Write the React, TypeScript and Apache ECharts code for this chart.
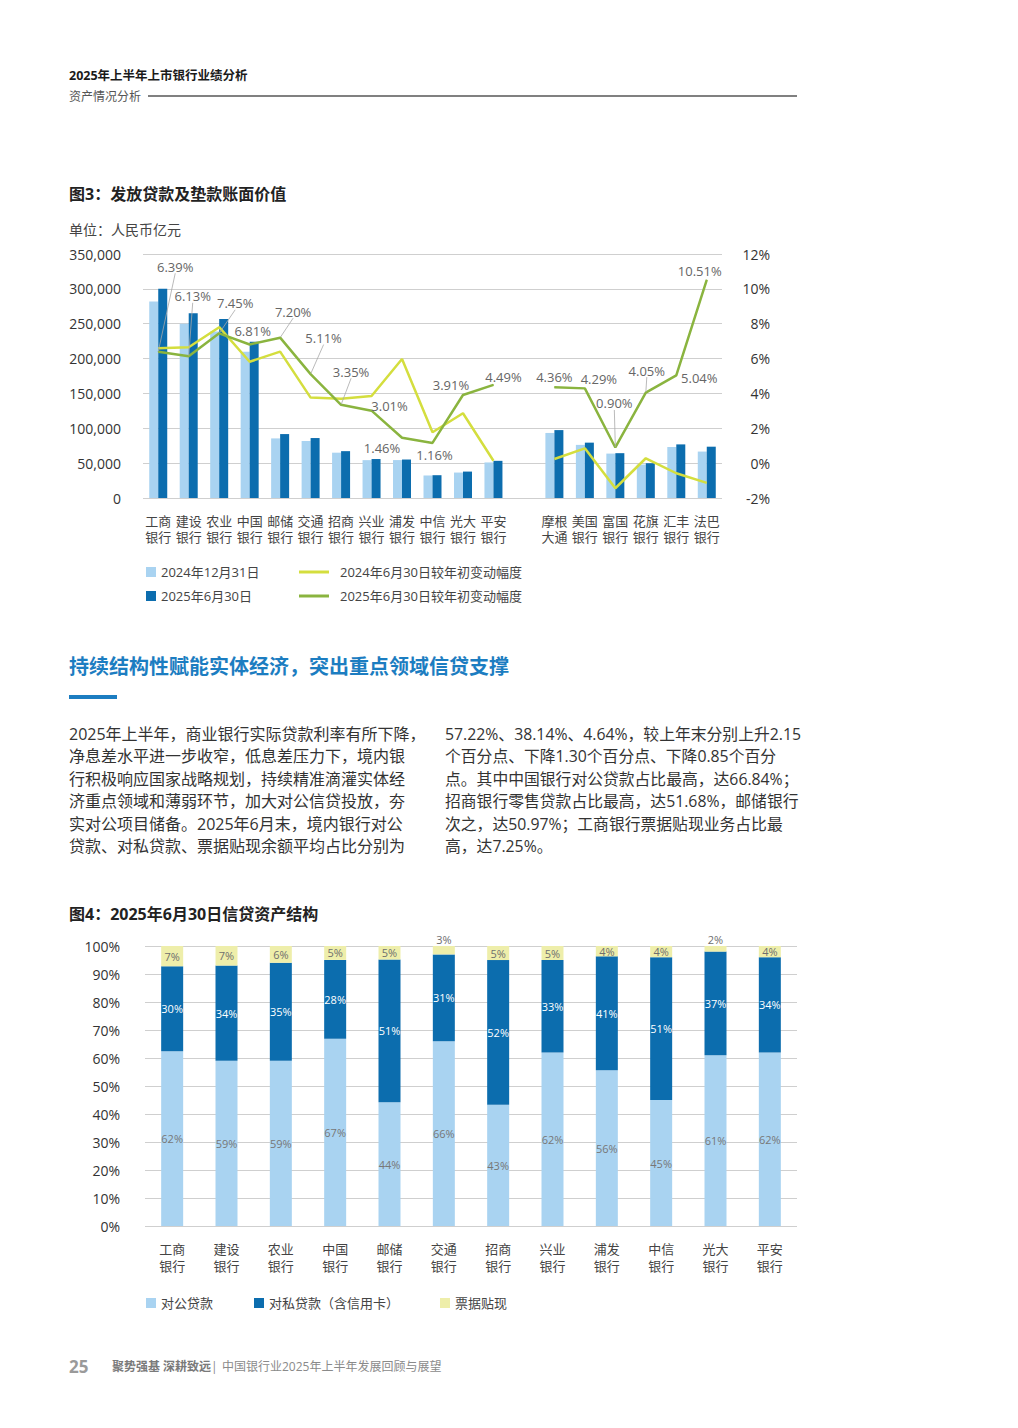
import React, { useEffect, useRef } from "react";
import * as echarts from "echarts";

const FONT = "'Open Sans','Noto Sans CJK SC',sans-serif";

// ---------- Figure 3 data ----------
const banks3 = [
  "工商\n银行", "建设\n银行", "农业\n银行", "中国\n银行", "邮储\n银行", "交通\n银行",
  "招商\n银行", "兴业\n银行", "浦发\n银行", "中信\n银行", "光大\n银行", "平安\n银行",
  "",
  "摩根\n大通", "美国\n银行", "富国\n银行", "花旗\n银行", "汇丰\n银行", "法巴\n银行",
];
const loans2024 = [282000, 249800, 239000, 209800, 85500, 81800, 65000, 54300, 54400, 32300, 36500, 51000, null, 93300, 76200, 63700, 48000, 73200, 66600];
const loans2025 = [300000, 265100, 256800, 224100, 91700, 86000, 67200, 55900, 55200, 32700, 37900, 53300, null, 97400, 79400, 64300, 49900, 76900, 73600];
const growth2024 = [6.59, 6.65, 7.8, 5.82, 6.4, 3.76, 3.7, 3.85, 5.98, 1.77, 2.86, 0.14, null, 0.24, 0.85, -1.44, 0.28, -0.58, -1.13];
const growth2025 = [6.39, 6.13, 7.45, 6.81, 7.2, 5.11, 3.35, 3.01, 1.46, 1.16, 3.91, 4.49, null, 4.36, 4.29, 0.9, 4.05, 5.04, 10.51];
const leftAxisMax = 350000;
const leftAxisStep = 50000;
const rightAxisMin = -2;
const rightAxisMax = 12;
const rightAxisStep = 2;

// ---------- Figure 4 data ----------
const banks4 = ["工商\n银行", "建设\n银行", "农业\n银行", "中国\n银行", "邮储\n银行", "交通\n银行", "招商\n银行", "兴业\n银行", "浦发\n银行", "中信\n银行", "光大\n银行", "平安\n银行"];
const corpLoans = [62.4, 59, 59, 66.84, 44.2, 66, 43.3, 62, 55.6, 45, 61, 62];
const retailLoans = [30.35, 34, 35, 28.2, 50.97, 31, 51.68, 33, 40.7, 51, 37, 34];
const billDiscount = [7.25, 7, 6, 4.96, 4.83, 3, 5.02, 5, 3.7, 4, 2, 4];

// ---------- Page text ----------
const paraLeft = [
  "2025年上半年，商业银行实际贷款利率有所下降，",
  "净息差水平进一步收窄，低息差压力下，境内银",
  "行积极响应国家战略规划，持续精准滴灌实体经",
  "济重点领域和薄弱环节，加大对公信贷投放，夯",
  "实对公项目储备。2025年6月末，境内银行对公",
  "贷款、对私贷款、票据贴现余额平均占比分别为",
];
const paraRight = [
  "57.22%、38.14%、4.64%，较上年末分别上升2.15",
  "个百分点、下降1.30个百分点、下降0.85个百分",
  "点。其中中国银行对公贷款占比最高，达66.84%；",
  "招商银行零售贷款占比最高，达51.68%，邮储银行",
  "次之，达50.97%；工商银行票据贴现业务占比最",
  "高，达7.25%。",
];

// label placement (layout only): offsets from point, and whether a leader line is drawn
const LBL_OFF = [[17, -85], [4, -60], [16, -30], [3, -13], [13, -26], [13, -36], [10, -33], [18, -5], [-20, 10], [2, 12], [-12, -10], [10, -8], [0, 0], [0, -10], [14, -9], [-1, -44], [1, -22], [23, 3], [-7, -9]];
const LBL_LEADER = [1, 1, 1, 0, 1, 1, 1, 0, 0, 0, 0, 0, 0, 0, 0, 1, 1, 0, 0];

const C_LIGHT = "#a9d3f1";
const C_DARK = "#0c6dae";
const C_L24 = "#d4de3e";
const C_L25 = "#8ab43f";
const C_BILL = "#eeeeaa";
const GRID_C = "#cfcfcf";

function txt(x: number, y: number, text: string, size: number, color: string, weight: string = "normal", extra: any = {}) {
  return {
    type: "text",
    x,
    y,
    silent: true,
    style: {
      text,
      fontSize: size,
      fontFamily: FONT,
      fontWeight: weight,
      fill: color,
      verticalAlign: "middle",
      ...extra,
    },
  };
}

export default function App() {
  const ref = useRef<HTMLDivElement>(null);

  useEffect(() => {
    if (!ref.current) return;
    const chart = echarts.init(ref.current, undefined, { renderer: "svg" });
    const dash = (v: any) => (v == null ? "-" : v);

    const option: any = {
      animation: false,
      backgroundColor: "#ffffff",
      textStyle: { fontFamily: FONT },
      graphic: [
        txt(69, 75, "2025年上半年上市银行业绩分析", 12.5, "#1a1a1a", "bold"),
        txt(69, 96, "资产情况分析", 12, "#555555"),
        { type: "line", silent: true, shape: { x1: 148, y1: 96, x2: 797, y2: 96 }, style: { stroke: "#808080", lineWidth: 2 } },
        txt(69, 194, "图3：发放贷款及垫款账面价值", 16, "#222222", "bold"),
        txt(69, 229, "单位：人民币亿元", 14, "#444444"),
        txt(69, 666, "持续结构性赋能实体经济，突出重点领域信贷支撑", 20, "#1c7dc1", "bold"),
        { type: "rect", silent: true, shape: { x: 69, y: 695, width: 48, height: 4 }, style: { fill: "#1c7dc1" } },
        txt(69, 722.8, paraLeft.join("\n"), 16, "#333333", "normal", { verticalAlign: "top", lineHeight: 22.4 }),
        txt(445, 722.8, paraRight.join("\n"), 15.8, "#333333", "normal", { verticalAlign: "top", lineHeight: 22.4 }),
        txt(69, 914, "图4：2025年6月30日信贷资产结构", 16, "#222222", "bold"),
        txt(69, 1366, "25", 17, "#9a9a9a", "bold"),
        txt(112, 1366, "聚势强基 深耕致远", 12, "#7a7a7a", "bold"),
        txt(211, 1366, "|", 12, "#8a8a8a"),
        txt(222, 1366, "中国银行业2025年上半年发展回顾与展望", 12, "#8a8a8a"),
      ],
      legend: [
        {
          orient: "vertical",
          left: 141,
          top: 560,
          itemGap: 10,
          icon: "rect",
          itemWidth: 10,
          itemHeight: 10,
          selectedMode: false,
          data: ["2024年12月31日", "2025年6月30日"],
          textStyle: { fontSize: 13, color: "#444", fontFamily: FONT, lineHeight: 14 },
        },
        {
          orient: "vertical",
          left: 294,
          top: 560,
          itemGap: 10,
          icon: "rect",
          itemWidth: 30,
          itemHeight: 3,
          selectedMode: false,
          data: ["2024年6月30日较年初变动幅度", "2025年6月30日较年初变动幅度"],
          textStyle: { fontSize: 13, color: "#444", fontFamily: FONT, lineHeight: 14, padding: [0, 0, 0, 6] },
        },
        {
          orient: "horizontal",
          left: 141,
          top: 1291,
          itemGap: 41,
          icon: "rect",
          itemWidth: 10,
          itemHeight: 10,
          selectedMode: false,
          data: ["对公贷款", "对私贷款（含信用卡）", "票据贴现"],
          textStyle: { fontSize: 13, color: "#444", fontFamily: FONT, lineHeight: 14 },
        },
      ],
      grid: [
        { left: 143, right: 296, top: 254, bottom: 930, containLabel: false },
        { left: 145, right: 221, top: 946, bottom: 202, containLabel: false },
      ],
      xAxis: [
        {
          type: "category",
          gridIndex: 0,
          data: banks3,
          axisLine: { show: false },
          axisTick: { show: false },
          axisLabel: { interval: 0, fontSize: 13, lineHeight: 16, color: "#444", margin: 15, fontFamily: FONT },
        },
        {
          type: "category",
          gridIndex: 1,
          data: banks4,
          axisLine: { show: false },
          axisTick: { show: false },
          axisLabel: { interval: 0, fontSize: 13, lineHeight: 17, color: "#444", margin: 14.5, fontFamily: FONT },
        },
      ],
      yAxis: [
        {
          type: "value",
          gridIndex: 0,
          min: 0,
          max: leftAxisMax,
          interval: leftAxisStep,
          axisLine: { show: false },
          axisTick: { show: false },
          splitLine: { lineStyle: { color: GRID_C, width: 1 } },
          axisLabel: {
            fontSize: 14,
            color: "#333",
            margin: 22,
            fontFamily: FONT,
            formatter: (v: number) => v.toLocaleString("en-US"),
          },
        },
        {
          type: "value",
          gridIndex: 0,
          position: "right",
          min: rightAxisMin,
          max: rightAxisMax,
          interval: rightAxisStep,
          axisLine: { show: false },
          axisTick: { show: false },
          splitLine: { show: false },
          axisLabel: { fontSize: 14, color: "#333", margin: 48, align: "right", fontFamily: FONT, formatter: "{value}%" },
        },
        {
          type: "value",
          gridIndex: 1,
          min: 0,
          max: 100,
          interval: 10,
          axisLine: { show: false },
          axisTick: { show: false },
          splitLine: { lineStyle: { color: GRID_C, width: 1 } },
          axisLabel: { fontSize: 14, color: "#333", margin: 25, fontFamily: FONT, formatter: "{value}%" },
        },
      ],
      series: [
        {
          name: "2024年12月31日",
          type: "bar",
          xAxisIndex: 0,
          yAxisIndex: 0,
          data: loans2024.map(dash),
          barWidth: 9,
          barGap: "0%",
          itemStyle: { color: C_LIGHT },
        },
        {
          name: "2025年6月30日",
          type: "bar",
          xAxisIndex: 0,
          yAxisIndex: 0,
          data: loans2025.map(dash),
          barWidth: 9,
          barGap: "0%",
          itemStyle: { color: C_DARK },
        },
        {
          name: "2024年6月30日较年初变动幅度",
          type: "line",
          xAxisIndex: 0,
          yAxisIndex: 1,
          data: growth2024.map(dash),
          showSymbol: false,
          symbol: "none",
          itemStyle: { color: C_L24 },
          lineStyle: { color: C_L24, width: 2.5 },
          z: 3,
        },
        {
          name: "2025年6月30日较年初变动幅度",
          type: "line",
          xAxisIndex: 0,
          yAxisIndex: 1,
          data: growth2025.map((v, i) =>
            v == null ? "-" : { value: v, labelLine: { show: !!LBL_LEADER[i] } }
          ),
          showSymbol: true,
          showAllSymbol: true,
          symbol: "circle",
          symbolSize: 1,
          itemStyle: { color: C_L25 },
          lineStyle: { color: C_L25, width: 2.5 },
          z: 4,
          label: {
            show: true,
            position: "inside",
            fontSize: 13,
            color: "#666",
            fontFamily: FONT,
            formatter: (p: any) => Number(p.value).toFixed(2) + "%",
          },
          labelLine: { show: true, lineStyle: { color: "#a8a8a8", width: 0.8 } },
          labelLayout: (params: any) => {
            const o = LBL_OFF[params.dataIndex] || [0, 0];
            return { dx: o[0], dy: o[1] };
          },
        },
        {
          name: "对公贷款",
          type: "bar",
          stack: "total",
          xAxisIndex: 1,
          yAxisIndex: 2,
          barWidth: 22,
          data: corpLoans,
          itemStyle: { color: C_LIGHT },
          label: {
            show: true,
            position: "inside",
            fontSize: 11,
            color: "#777",
            fontFamily: FONT,
            formatter: (p: any) => Math.round(p.value) + "%",
          },
        },
        {
          name: "对私贷款（含信用卡）",
          type: "bar",
          stack: "total",
          xAxisIndex: 1,
          yAxisIndex: 2,
          barWidth: 22,
          data: retailLoans,
          itemStyle: { color: C_DARK },
          label: {
            show: true,
            position: "inside",
            fontSize: 11,
            color: "#ffffff",
            fontFamily: FONT,
            formatter: (p: any) => Math.round(p.value) + "%",
          },
        },
        {
          name: "票据贴现",
          type: "bar",
          stack: "total",
          xAxisIndex: 1,
          yAxisIndex: 2,
          barWidth: 22,
          data: billDiscount.map((v) =>
            v <= 3 ? { value: v, label: { position: "top", distance: 1 } } : v
          ),
          itemStyle: { color: C_BILL },
          label: {
            show: true,
            position: "inside",
            fontSize: 11,
            color: "#6e6e6e",
            fontFamily: FONT,
            formatter: (p: any) => Math.round(p.value) + "%",
          },
        },
      ],
    };

    chart.setOption(option);
    return () => {
      chart.dispose();
    };
  }, []);

  return (
    <div
      ref={ref}
      style={{ position: "absolute", left: 0, top: 0, width: 1018, height: 1428, background: "#fff" }}
    />
  );
}
